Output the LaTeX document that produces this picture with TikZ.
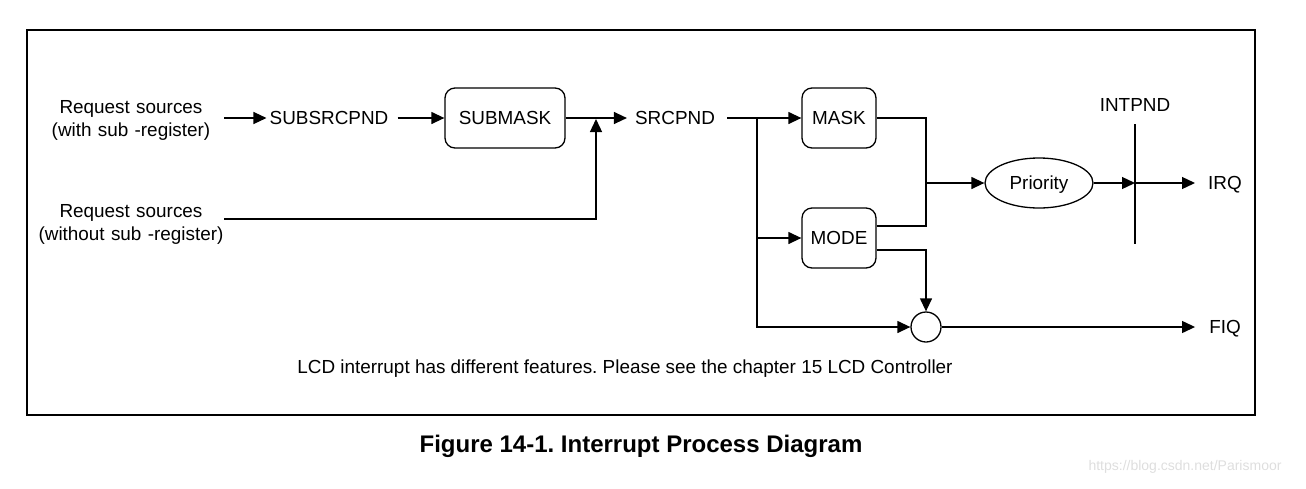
\documentclass[tikz,border=0pt]{standalone}
\usepackage{fontspec}
\setmainfont{Liberation Sans}
\usetikzlibrary{arrows.meta,shapes.geometric}
\begin{document}
\begin{tikzpicture}[x=1pt,y=-1pt,
  every node/.style={inner sep=0pt,font=\fontsize{18.9}{23}\selectfont\frenchspacing},
  one/.style={text height=13.6pt,text depth=0pt},
  lbl/.style={align=center},
  regbox/.style={one,draw,line width=1.3pt,rounded corners=10pt,minimum height=60pt},
  arr/.style={line width=1.3pt,-{Triangle[length=13pt,width=12pt]}},
  ln/.style={line width=1.3pt}]
\useasboundingbox (0,0) rectangle (1306,488);
\draw[line width=2pt] (27,30) rectangle (1255,415);
% nodes
\node[lbl,text width=186pt] (src1) at (131,120) {Request sources\\(with sub -register)};
\node[lbl,text width=186pt] (src2) at (131,224) {Request sources\\(without sub -register)};
\node[one] (subsrc) at (329,118) {SUBSRCPND};
\node[regbox,minimum width=120pt] (submask) at (505,118) {SUBMASK};
\node[one] (srcpnd) at (675,118) {SRCPND};
\node[regbox,minimum width=74pt] (mask) at (839,118) {MASK};
\node[regbox,minimum width=74pt] (mode) at (839,238) {MODE};
\node[one,draw,ellipse,line width=1.3pt,minimum width=108pt,minimum height=50pt] (prio) at (1039,183) {Priority};
\node[one] (intpnd) at (1135,105) {INTPND};
\node[one] (irq) at (1225,183) {IRQ};
\node[draw,circle,line width=1.3pt,minimum size=30pt] (orc) at (926,327) {};
\node[one] (fiq) at (1225,327) {FIQ};
\node[one] (note) at (625,367) {LCD interrupt has different features. Please see the chapter 15 LCD Controller};
\node[font=\fontsize{24}{28}\selectfont\bfseries\frenchspacing,text height=17.3pt,text depth=0pt] (cap) at (641,444) {Figure 14-1. Interrupt Process Diagram};
\node[font=\fontsize{14}{16}\selectfont,text=black!13] (wm) at (1185,467) {https://blog.csdn.net/Parismoor};
% coordinates
\coordinate (j1) at (596,118);
\coordinate (br) at (757,118);
\coordinate (mg) at (926,183);
\coordinate (intT) at (1135,124);
\coordinate (intB) at (1135,244);
\coordinate (intM) at (1135,183);
% connectors
\draw[arr,shorten >=3pt] (src1.east |- subsrc.west) -- (subsrc.west);
\draw[arr,shorten <=9pt] (subsrc.east) -- (submask.west);
\draw[arr,shorten >=8pt] (submask.east) -- (srcpnd.west);
\draw[arr] ([yshift=5pt]src2.east) -| ([yshift=-1pt]j1);
\draw[arr,shorten <=12pt] (srcpnd.east) -- (mask.west);
\draw[arr] (br) |- (orc.west);
\draw[arr] (br |- mode.west) -- (mode.west);
\draw[ln] (mask.east) -| (mg);
\draw[ln] ([yshift=12pt]mode.east) -| (mg);
\draw[arr] (mg) -- (prio.west);
\draw[arr] (prio.east) -- (intM);
\draw[arr,shorten >=13pt] (intM) -- (irq.west);
\draw[ln] (intT) -- (intB);
\draw[arr] ([yshift=-12pt]mode.east) -| (orc.north);
\draw[arr,shorten >=14pt] (orc.east) -- (fiq.west);
\end{tikzpicture}
\end{document}
